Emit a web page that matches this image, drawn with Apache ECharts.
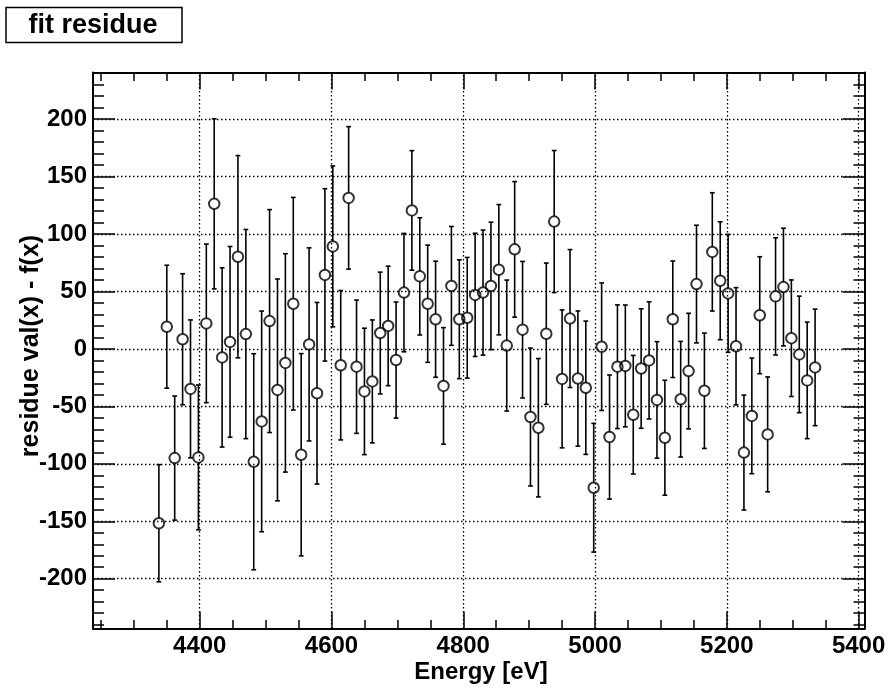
<!DOCTYPE html>
<html>
<head>
<meta charset="utf-8">
<script src="https://cdn.jsdelivr.net/npm/echarts@6/dist/echarts.min.js"></script>
<style>
html,body{margin:0;padding:0;background:#fff;}
#chart{width:893px;height:688px;}
</style>
</head>
<body>
<div id="chart"></div>
<script>
// ---- data ----
const energy = [4338,4350,4362,4374,4386,4398,4410,4422,4434,4446,4458,4470,4482,4494,4506,4518,4530,4542,4554,4566,4578,4590,4602,4614,4626,4638,4650,4662,4674,4686,4698,4710,4722,4734,4746,4758,4770,4782,4794,4806,4818,4830,4842,4854,4866,4878,4890,4902,4914,4926,4938,4950,4962,4974,4986,4998,5010,5022,5034,5046,5058,5070,5082,5094,5106,5118,5130,5142,5154,5166,5178,5190,5202,5214,5226,5238,5250,5262,5274,5286,5298,5310,5322,5334];
const residue = [-151.7,19.3,-95,8.4,-34.8,-94.4,22.2,126.2,-7.4,6.1,80.2,12.9,-98.2,-63.1,24.2,-35.7,-12.2,39.3,-92.1,3.9,-38.6,64.4,89.2,-14.2,131.4,-15.5,-37,-28.3,13.8,20,-9.7,49,120.5,63.1,39.3,25.8,-32.2,54.8,25.8,27.1,47,49,54.8,68.9,2.9,86.6,16.7,-59.3,-68.6,13.2,110.8,-26.1,26.4,-25.8,-33.8,-120.8,1.9,-76.7,-15.5,-14.8,-57.3,-17.1,-10,-44.4,-77.3,25.8,-43.8,-19.3,56.4,-36.4,84.4,59.3,48.3,2.3,-90.2,-58.3,29.3,-74.4,45.7,53.8,9.3,-4.8,-27.4,-16.1];
const residueErr = [51,53.5,54,57,60,63,69,74,78,83,88,91,94,96,97,96.5,95,92.5,88,84,79,75,70,65,62,58,55,53.5,53,52,50.5,51.5,52,51,51,50.5,50.7,51.7,51.7,52.5,53.6,54.4,55.5,56.7,57,59,59.4,60,60.2,61.5,61.8,60,60,58.8,58,56,55.5,54,53.8,53,51.6,52,51,50.7,50,50.7,50.3,50.3,51.2,50.2,51.5,51.3,51.3,51,50,50.3,50.9,50,51,51.2,50.7,50.7,50.7,50.7];

const xMajorTicks = [4400,4600,4800,5000,5200,5400];
const xMinorTicks = [4250,4300,4350,4450,4500,4550,4650,4700,4750,4850,4900,4950,5050,5100,5150,5250,5300,5350];
const yMajorTicks = [-200,-150,-100,-50,0,50,100,150,200];
const yMinorTicks = [-240,-230,-220,-210,-190,-180,-170,-160,-140,-130,-120,-110,-90,-80,-70,-60,-40,-30,-20,-10,10,20,30,40,60,70,80,90,110,120,130,140,160,170,180,190,210,220,230,240];

const X_MIN = 4238, X_MAX = 5409;
const Y_MIN = -243.3, Y_MAX = 240.5;

const titleText = 'fit residue';
const xTitle = 'Energy [eV]';
const yTitle = 'residue val(x) - f(x)';

// ---- styling ----
const FONT = '"Liberation Sans", Arial, Helvetica, sans-serif';
const MARK_SIZE = 10.5;
const MARK_R = MARK_SIZE / 2;
const CAP = 2.4;

function xAxisDef(position, ticks, len, showLine, showLabel) {
  return {
    type: 'value', min: X_MIN, max: X_MAX, position: position, offset: 0,
    axisLine: {show: showLine, onZero: false, lineStyle: {color: '#000', width: 2}},
    axisTick: {show: true, inside: true, length: len, customValues: ticks, lineStyle: {color: '#000', width: 1.5}},
    axisLabel: showLabel ? {show: true, customValues: ticks, formatter: v => String(v),
      fontFamily: FONT, fontWeight: 'bold', fontSize: 24, color: '#000', margin: 6} : {show: false},
    splitLine: {show: false}, minorTick: {show: false}
  };
}
function yAxisDef(position, ticks, len, showLine, showLabel) {
  return {
    type: 'value', min: Y_MIN, max: Y_MAX, position: position, offset: 0,
    axisLine: {show: showLine, onZero: false, lineStyle: {color: '#000', width: 2}},
    axisTick: {show: true, inside: true, length: len, customValues: ticks, lineStyle: {color: '#000', width: 1.5}},
    axisLabel: showLabel ? {show: true, customValues: ticks, formatter: v => String(v),
      fontFamily: FONT, fontWeight: 'bold', fontSize: 24, color: '#000', margin: 6} : {show: false},
    splitLine: {show: false}, minorTick: {show: false}
  };
}

const chart = echarts.init(document.getElementById('chart'), null, {renderer: 'canvas'});

const gridLineStyle = {color: '#000', width: 1.3, type: [1.5, 2.5]};

const option = {
  animation: false,
  backgroundColor: '#fff',
  grid: {left: 93, top: 72.5, width: 771.5, height: 556, containLabel: false, outerBoundsMode: 'none'},
  xAxis: [
    xAxisDef('bottom', xMajorTicks, 17, true, true),
    xAxisDef('bottom', xMinorTicks, 8.5, false, false),
    xAxisDef('top', xMajorTicks, 17, true, false),
    xAxisDef('top', xMinorTicks, 8.5, false, false)
  ],
  yAxis: [
    yAxisDef('left', yMajorTicks, 22, true, true),
    yAxisDef('left', yMinorTicks, 11, false, false),
    yAxisDef('right', yMajorTicks, 22, true, false),
    yAxisDef('right', yMinorTicks, 11, false, false)
  ],
  graphic: [
    {type: 'rect', shape: {x: 6, y: 7.5, width: 176, height: 35}, style: {fill: '#fff', stroke: '#000', lineWidth: 1.5}},
    {type: 'text', x: 93, y: 26, style: {text: titleText, font: 'bold 27px ' + FONT, fill: '#000',
      align: 'center', verticalAlign: 'middle', textAlign: 'center', textVerticalAlign: 'middle'}},
    {type: 'text', x: 481, y: 672, style: {text: xTitle, font: 'bold 24px ' + FONT, fill: '#000',
      align: 'center', verticalAlign: 'middle', textAlign: 'center', textVerticalAlign: 'middle'}},
    {type: 'text', x: 31, y: 346, rotation: Math.PI / 2, style: {text: yTitle, font: 'bold 25px ' + FONT, fill: '#000',
      align: 'center', verticalAlign: 'middle', textAlign: 'center', textVerticalAlign: 'middle'}}
  ],
  series: [
    {
      type: 'line', data: [], xAxisIndex: 0, yAxisIndex: 0, z: 1, silent: true,
      markLine: {
        silent: true, symbol: ['none', 'none'], label: {show: false},
        lineStyle: gridLineStyle, emphasis: {disabled: true},
        data: xMajorTicks.map(v => ({xAxis: v})).concat(yMajorTicks.map(v => ({yAxis: v})))
      }
    },
    {
      type: 'custom', name: 'errors', xAxisIndex: 0, yAxisIndex: 0, z: 3, silent: true,
      dimensions: ['x', 'y', 'err'], encode: {x: 0, y: 1},
      data: energy.map((e, i) => [e, residue[i], residueErr[i]]),
      renderItem: function (params, api) {
        const x = api.value(0), y = api.value(1), e = api.value(2);
        const c = api.coord([x, y]);
        const hi = api.coord([x, y + e]);
        const lo = api.coord([x, y - e]);
        const st = {stroke: '#000', lineWidth: 1.6};
        return {type: 'group', children: [
          {type: 'line', shape: {x1: c[0], y1: hi[1], x2: c[0], y2: c[1] - MARK_R}, style: st},
          {type: 'line', shape: {x1: c[0], y1: c[1] + MARK_R, x2: c[0], y2: lo[1]}, style: st},
          {type: 'line', shape: {x1: c[0] - CAP, y1: hi[1], x2: c[0] + CAP, y2: hi[1]}, style: st},
          {type: 'line', shape: {x1: c[0] - CAP, y1: lo[1], x2: c[0] + CAP, y2: lo[1]}, style: st}
        ]};
      }
    },
    {
      type: 'scatter', name: 'residue', xAxisIndex: 0, yAxisIndex: 0, z: 4, silent: true,
      symbol: 'circle', symbolSize: MARK_SIZE,
      itemStyle: {color: 'rgba(0,0,0,0)', borderColor: '#000', borderWidth: 2},
      data: energy.map((e, i) => [e, residue[i]])
    }
  ]
};
chart.setOption(option);
</script>
</body>
</html>
